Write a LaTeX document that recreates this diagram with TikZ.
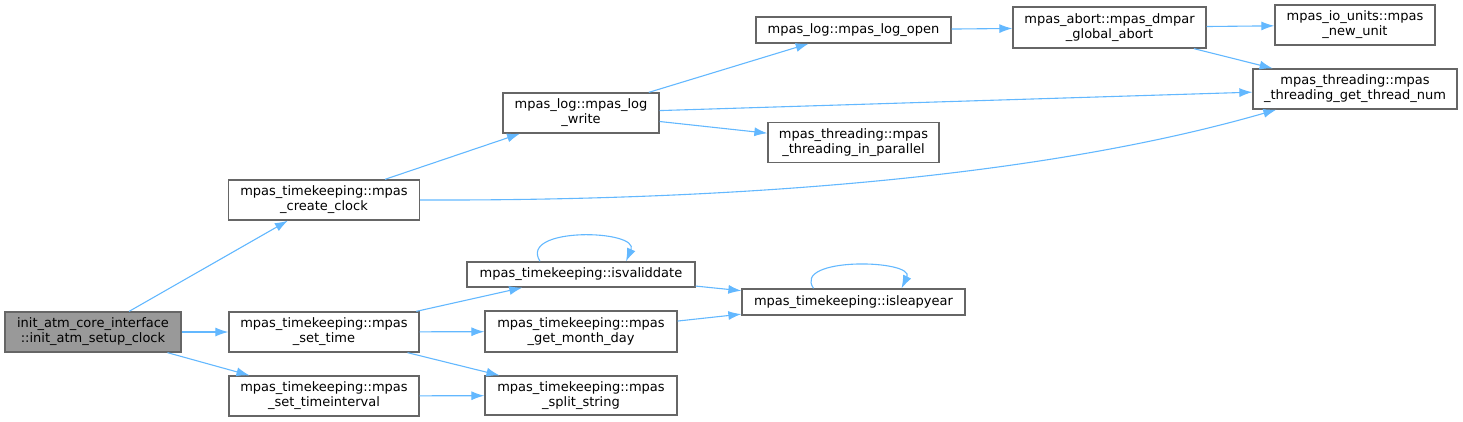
\documentclass[tikz,border=0pt]{standalone}
\usepackage{fontspec}
\setmainfont{DejaVu Sans}
\usepackage{xcolor}
\usetikzlibrary{arrows.meta}
\definecolor{edgeblue}{HTML}{63B8FF}
\definecolor{boxgray}{HTML}{666666}
\definecolor{rootgray}{HTML}{999999}

\begin{document}
\begin{tikzpicture}[
    x=1pt, y=-1pt,
    fn/.style={rectangle, draw=boxgray, fill=white, line width=1.3pt,
               align=center, inner sep=0pt, minimum height=40pt,
               font=\fontsize{13pt}{15pt}\selectfont},
    oneline/.style={fn, minimum height=26pt},
    caller/.style={fn, fill=rootgray},
    arr/.style={-{Latex[length=13pt, width=9pt]}, draw=edgeblue, line width=1.1pt},
  ]
    \useasboundingbox (0,0) rectangle (1463,421);

    \node[caller, minimum width=176pt] (setupclk)  at (93,332)    {init\_atm\_core\_interface\\::init\_atm\_setup\_clock};
    \node[fn, minimum width=191pt]     (createclk) at (324,200)   {mpas\_timekeeping::mpas\\\_create\_clock};
    \node[fn, minimum width=190pt]     (settime)   at (324,332)   {mpas\_timekeeping::mpas\\\_set\_time};
    \node[fn, minimum width=190pt]     (setintv)   at (324,396)   {mpas\_timekeeping::mpas\\\_set\_timeinterval};
    \node[fn, minimum width=156pt]     (logwrite)  at (581,113)   {mpas\_log::mpas\_log\\\_write};
    \node[oneline, minimum width=195pt] (logopen)  at (853.5,30)  {mpas\_log::mpas\_log\_open};
    \node[fn, minimum width=193pt, minimum height=41pt] (gabort) at (1109.5,27.5) {mpas\_abort::mpas\_dmpar\\\_global\_abort};
    \node[fn, minimum width=160pt]     (newunit)   at (1355,25)   {mpas\_io\_units::mpas\\\_new\_unit};
    \node[fn, minimum width=204pt]     (threadnum) at (1355,89)   {mpas\_threading::mpas\\\_threading\_get\_thread\_num};
    \node[fn, minimum width=171pt]     (inpar)     at (853.5,142.5) {mpas\_threading::mpas\\\_threading\_in\_parallel};
    \node[oneline, minimum width=228pt, minimum height=25pt] (validdate) at (581,274.5) {mpas\_timekeeping::isvaliddate};
    \node[oneline, minimum width=223pt] (leapyear) at (853.5,302) {mpas\_timekeeping::isleapyear};
    \node[fn, minimum width=192pt, minimum height=41pt] (monthday) at (581,331.5) {mpas\_timekeeping::mpas\\\_get\_month\_day};
    \node[fn, minimum width=192pt, minimum height=39pt] (splitstr) at (581,395.5) {mpas\_timekeeping::mpas\\\_split\_string};

    \draw[arr] (setupclk) -- (createclk);
    \draw[arr] (setupclk) -- (settime);
    \draw[arr] (setupclk) -- (setintv);
    \draw[arr] (createclk) -- (logwrite);
    \draw[arr] (createclk.east) .. controls (750,201) and (1050,175) .. ([xshift=24pt]threadnum.south west);
    \draw[arr] (logwrite) -- (logopen);
    \draw[arr] (logwrite) -- (threadnum);
    \draw[arr] (logwrite) -- (inpar);
    \draw[arr] (logopen) -- (gabort);
    \draw[arr] (gabort) -- (newunit);
    \draw[arr] (gabort) -- (threadnum);
    \draw[arr] (settime) -- (validdate);
    \draw[arr] (settime) -- (monthday);
    \draw[arr] (settime) -- (splitstr);
    \draw[arr] (setintv) -- (splitstr);
    \draw[arr] ([xshift=-41pt]validdate.north) .. controls +(-22,-35) and +(14,-32) .. ([xshift=45pt]validdate.north);
    \draw[arr] (validdate) -- (leapyear);
    \draw[arr] (monthday) -- (leapyear);
    \draw[arr] ([xshift=-40pt]leapyear.north) .. controls +(-22,-32) and +(14,-29) .. ([xshift=48pt]leapyear.north);
  \end{tikzpicture}
\end{document}
